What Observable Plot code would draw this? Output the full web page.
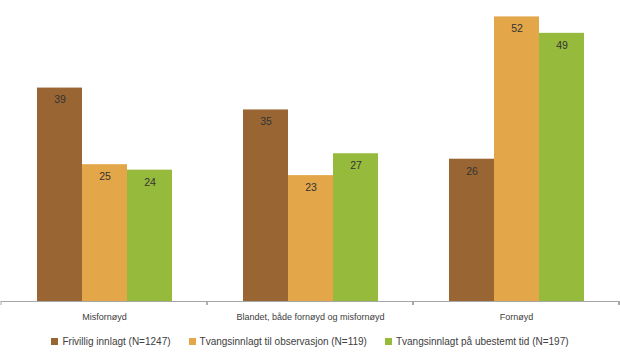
<!DOCTYPE html>
<html>
<head>
<meta charset="utf-8">
<script src="https://cdn.jsdelivr.net/npm/d3@7"></script>
<script src="https://cdn.jsdelivr.net/npm/@observablehq/plot@0.6"></script>
<style>
  html, body { margin: 0; padding: 0; background: #fff; }
  body { width: 620px; height: 364px; overflow: hidden; font-family: "Liberation Sans", sans-serif; }
  #legend { display: flex; justify-content: center; gap: 18px; margin-top: 7px; font-size: 10px; color: #404040; line-height: 14px; }
  #legend span.sw { display: inline-block; width: 7px; height: 7px; margin-right: 4px; vertical-align: 0px; }
</style>
</head>
<body>
<div id="chart"></div>
<div id="legend"></div>
<script>
const categories = ["Misfornøyd", "Blandet, både fornøyd og misfornøyd", "Fornøyd"];
const series = ["Frivillig innlagt (N=1247)", "Tvangsinnlagt til observasjon (N=119)", "Tvangsinnlagt på ubestemt tid (N=197)"];
const colors = ["#996633", "#E3A648", "#96BA3C"];
const frivillig = [39, 35, 26];
const observasjon = [25, 23, 52];
const ubestemt = [24, 27, 49];

const seriesValues = [frivillig, observasjon, ubestemt];
const data = [];
categories.forEach((c, i) => {
  series.forEach((s, j) => data.push({category: c, series: s, value: seriesValues[j][i]}));
});

const boundaryTicks = (index, scales, values, dims) => {
  const g = d3.create("svg:g");
  const fx = scales.fx;
  const y0 = scales.y(0);
  const xs = [];
  categories.forEach(c => { xs.push(fx(c)); xs.push(fx(c) + fx.bandwidth()); });
  for (const x of xs) {
    g.append("line").attr("x1", x).attr("x2", x).attr("y1", y0).attr("y2", y0 + 4)
      .attr("stroke", "#a6a6a6").attr("stroke-width", 1);
  }
  return g.node();
};

const plot = Plot.plot({
  width: 620,
  height: 328,
  marginTop: 0,
  marginBottom: 27,
  marginLeft: 1,
  marginRight: 1,
  style: {fontFamily: "'Liberation Sans', sans-serif", fontSize: "9px", color: "#404040"},
  fx: {domain: categories, padding: 0, label: null},
  x: {domain: series, paddingInner: 0, paddingOuter: 0.74, axis: null},
  y: {domain: [0, 55], axis: null},
  color: {domain: series, range: colors},
  marks: [
    Plot.barY(data, {fx: "category", x: "series", y: "value", fill: "series", inset: 0}),
    Plot.text(data, {fx: "category", x: "series", y: "value", text: d => String(d.value), dy: 12, fill: "#333", fontSize: 10.5}),
    Plot.ruleY([0], {stroke: "#a6a6a6", strokeWidth: 1, facet: "exclude"}),
    Plot.axisFx({anchor: "bottom", tickSize: 0, tickPadding: 12, fontSize: 9, fill: "#404040", label: null}),
    boundaryTicks
  ]
});
document.getElementById("chart").appendChild(plot);

const legend = document.getElementById("legend");
series.forEach((s, i) => {
  const item = document.createElement("div");
  const sw = document.createElement("span");
  sw.className = "sw";
  sw.style.background = colors[i];
  item.appendChild(sw);
  item.appendChild(document.createTextNode(s));
  legend.appendChild(item);
});
</script>
</body>
</html>
